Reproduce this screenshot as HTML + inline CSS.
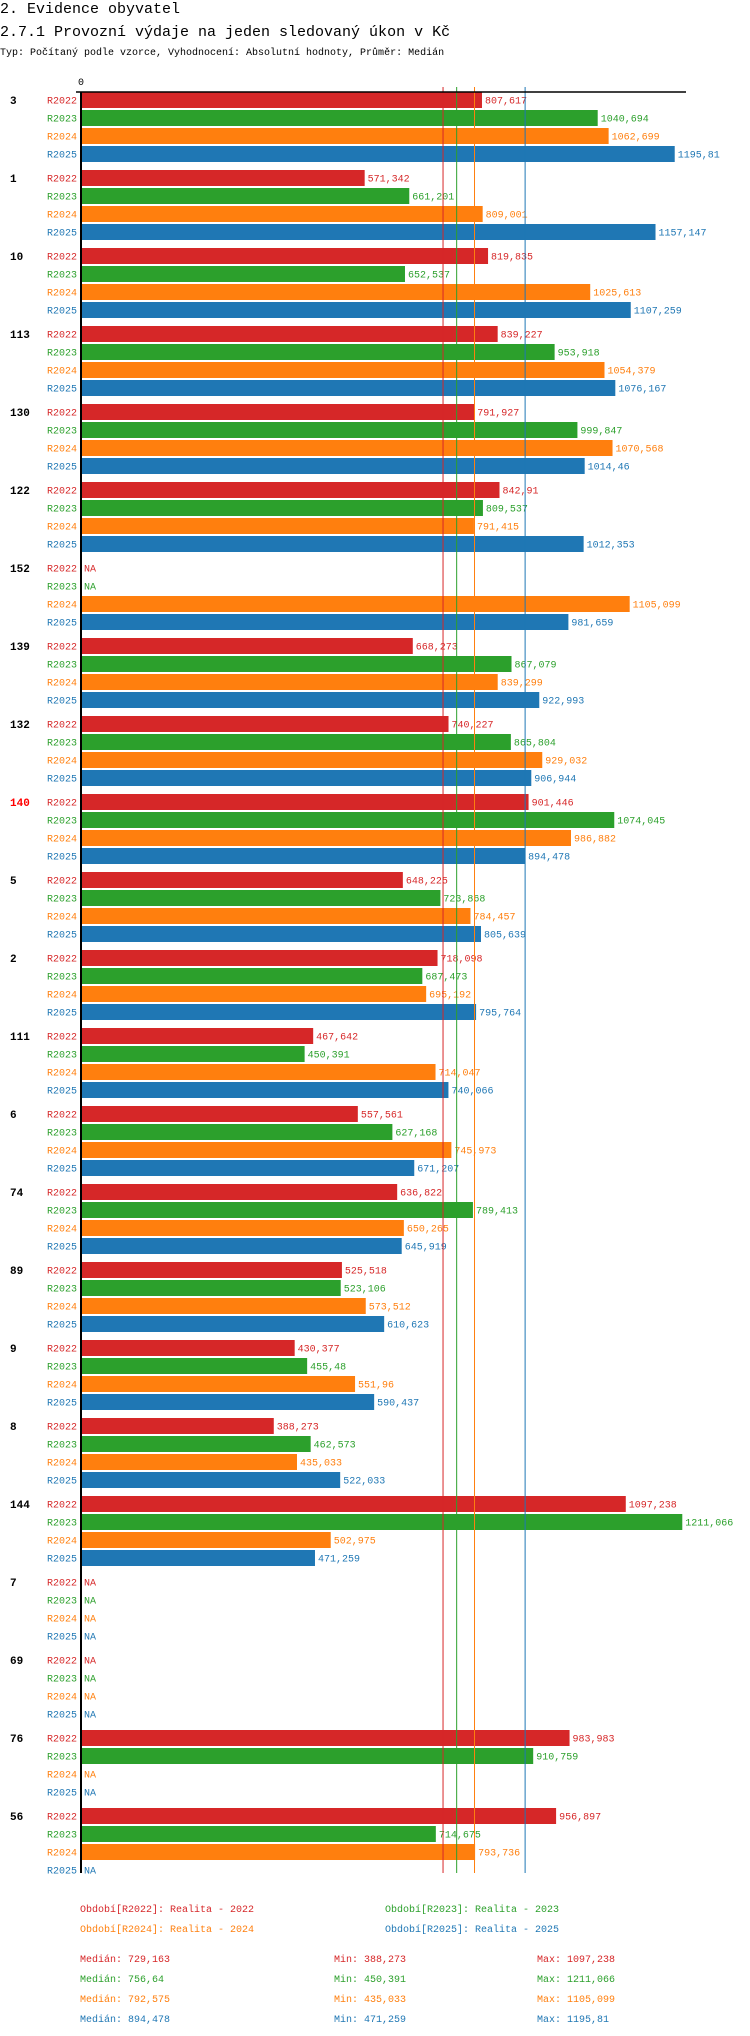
<!DOCTYPE html>
<html><head><meta charset="utf-8">
<style>
html,body{margin:0;padding:0;background:#fff;}
svg{display:block;font-family:"Liberation Mono",monospace;}
</style></head>
<body>
<svg id="chart" width="750" height="2036" viewBox="0 0 750 2036" xmlns="http://www.w3.org/2000/svg">
<text x="0" y="13" font-size="15" fill="#000">2. Evidence obyvatel</text>
<text x="0" y="36" font-size="15" fill="#000">2.7.1 Provozní výdaje na jeden sledovaný úkon v Kč</text>
<text x="0" y="55" font-size="10" fill="#000">Typ: Počítaný podle vzorce, Vyhodnocení: Absolutní hodnoty, Průměr: Medián</text>
<g id="plot"></g>
</svg>
<script>
const categories = ["3","1","10","113","130","122","152","139","132","140","5","2","111","6","74","89","9","8","144","7","69","76","56"];
const seriesNames = ["R2022","R2023","R2024","R2025"];
const r2022 = [807.617,571.342,819.835,839.227,791.927,842.91,null,668.273,740.227,901.446,648.225,718.098,467.642,557.561,636.822,525.518,430.377,388.273,1097.238,null,null,983.983,956.897];
const r2023 = [1040.694,661.201,652.537,953.918,999.847,809.537,null,867.079,865.804,1074.045,723.868,687.473,450.391,627.168,789.413,523.106,455.48,462.573,1211.066,null,null,910.759,714.675];
const r2024 = [1062.699,809.001,1025.613,1054.379,1070.568,791.415,1105.099,839.299,929.032,986.882,784.457,695.192,714.047,745.973,650.265,573.512,551.96,435.033,502.975,null,null,null,793.736];
const r2025 = [1195.81,1157.147,1107.259,1076.167,1014.46,1012.353,981.659,922.993,906.944,894.478,805.639,795.764,740.066,671.207,645.919,610.623,590.437,522.033,471.259,null,null,null,null];
const medians = [729.163,756.64,792.575,894.478];
const mins = [388.273,450.391,435.033,471.259];
const maxs = [1097.238,1211.066,1105.099,1195.81];
const tickLabels = ["0"];
const highlighted = "140";

const colors = ["#d62728","#2ca02c","#ff7f0e","#1f77b4"];
const series = [r2022,r2023,r2024,r2025];
const NS = "http://www.w3.org/2000/svg";
const plot = document.getElementById("plot");
const X0 = 81, SCALE = 0.4965, TOP = 92, GROUP = 78, BAR = 18, BH = 16;
function xs(v){ return X0 + v*SCALE; }
function fmt(v){ return String(v).replace(".", ","); }
function mk(tag, attrs, txt){
  const e = document.createElementNS(NS, tag);
  for (const k in attrs) e.setAttribute(k, attrs[k]);
  if (txt !== undefined) e.textContent = txt;
  plot.appendChild(e);
  return e;
}
const bottom = TOP + categories.length*GROUP - 13;

// bars
categories.forEach((c, gi) => {
  const gy = TOP + gi*GROUP;
  const gl = mk("text", {x:10, y:gy+12, "font-size":11, "font-weight":"bold", fill: c===highlighted ? "#ff0000" : "#000"}, c);
  
  
  series.forEach((s, si) => {
    const y = gy + si*BAR;
    const sl = mk("text", {x:77, y:y+11.5, "font-size":10, fill:colors[si], "text-anchor":"end"}, seriesNames[si]);
    
    
    const v = s[gi];
    if (v === null) {
      const na = mk("text", {x:84, y:y+11.5, "font-size":10, fill:colors[si]}, "NA");
      
      
    } else {
      const r = mk("rect", {x:X0+1, y:y, width:xs(v)-X0-1, height:BH, fill:colors[si]});
      
      
      const vl = mk("text", {x:xs(v)+3, y:y+11.5, "font-size":10, fill:colors[si]}, fmt(v));
      
      
    }
  });
});

// median lines
medians.forEach((m, i) => {
  const l = mk("line", {x1:xs(m), x2:xs(m), y1:TOP-5, y2:bottom, stroke:colors[i], "stroke-width":1});
  
  
});

// axes
const ax = mk("line", {x1:76, x2:686, y1:TOP, y2:TOP, stroke:"#000", "stroke-width":1.5});


const ay = mk("line", {x1:X0, x2:X0, y1:TOP, y2:bottom, stroke:"#000", "stroke-width":2});


const t0 = mk("text", {x:X0, y:85, "font-size":10, fill:"#000", "text-anchor":"middle"}, tickLabels[0]);



// legend
const legX = [80, 385, 80, 385], legY = [1912, 1912, 1932, 1932];
seriesNames.forEach((n, i) => {
  const t = mk("text", {x:legX[i], y:legY[i], "font-size":10, fill:colors[i]}, "Období[" + n + "]: Realita - " + n.slice(1));
  
  
});
seriesNames.forEach((n, i) => {
  const y = 1962 + i*20;
  const a = mk("text", {x:80, y:y, "font-size":10, fill:colors[i]}, "Medián: " + fmt(medians[i]));
  
  
  const b = mk("text", {x:334, y:y, "font-size":10, fill:colors[i]}, "Min: " + fmt(mins[i]));
  
  
  const c = mk("text", {x:537, y:y, "font-size":10, fill:colors[i]}, "Max: " + fmt(maxs[i]));
  
  
});
</script>
</body></html>
